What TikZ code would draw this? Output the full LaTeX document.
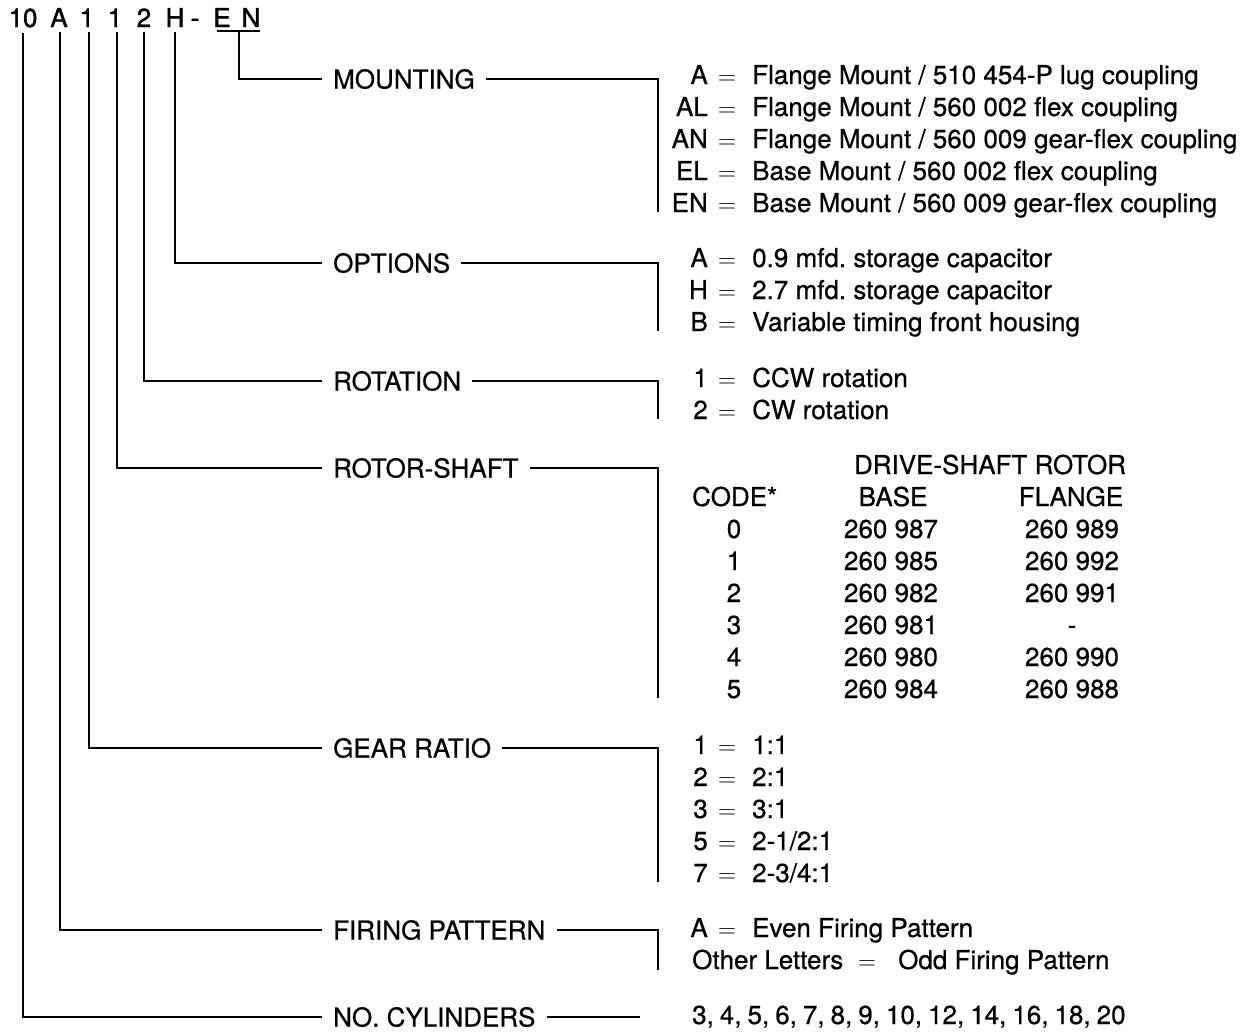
\documentclass[tikz,border=0pt]{standalone}
\usepackage{fontspec}
\setmainfont{TeX Gyre Heros}[FakeBold=0.6]
\newcommand\myfs{\fontsize{26}{30}\selectfont\frenchspacing}
\newcommand\myeq{$=$}
\begin{document}
\begin{tikzpicture}[x=1pt,y=-1pt,
  every node/.style={font=\myfs, inner sep=0pt},
  codech/.style={anchor=base, inner ysep=5pt, font=\myfs\addfontfeature{FakeBold=1.5}},
  lbl/.style={anchor=west, inner xsep=11pt, text height=19pt, text depth=0pt},
  key/.style={anchor=base east},
  eq/.style={anchor=base},
  desc/.style={anchor=base west},
  cell/.style={anchor=base},
  conn/.style={line width=1.2pt}]
\useasboundingbox (0,0) rectangle (1255,1031);

% code string
\node[codech] (c10) at (23,27) {10};
\node[codech] (cA) at (59,27) {A};
\node[codech] (c1a) at (87,27) {1};
\node[codech] (c1b) at (115,27) {1};
\node[codech] (c2) at (144,27) {2};
\node[codech] (cH) at (175,27) {H};
\node[codech] (cd) at (195,27) {-};
\node[codech] (cE) at (222,27) {E};
\node[codech] (cN) at (251,27) {N};
\coordinate (ulL) at (217,31);
\coordinate (ulR) at (260,31);
\coordinate (ulM) at (239,31);

% category labels
\node[lbl] (mnt) at (322,79) {MOUNTING};
\node[lbl] (opt) at (322,263) {OPTIONS};
\node[lbl] (rot) at (322,381) {ROTATION};
\node[lbl] (rsh) at (322,468) {ROTOR-SHAFT};
\node[lbl] (gr) at (322,748) {GEAR RATIO};
\node[lbl] (fp) at (322,930) {FIRING PATTERN};
\node[lbl] (nc) at (322,1017) {NO. CYLINDERS};

% bracket ends
\coordinate (mntB) at (658,212);
\coordinate (optB) at (658,331);
\coordinate (rotB) at (658,419);
\coordinate (rshB) at (658,698);
\coordinate (grB) at (658,882);
\coordinate (fpB) at (658,970);
\coordinate (ncE) at (640,1017);

% connectors
\draw[conn] (ulL) -- (ulR);
\draw[conn] (ulM) |- (mnt.west);
\draw[conn] (cH.south) |- (opt.west);
\draw[conn] (c2.south) |- (rot.west);
\draw[conn] ([xshift=2pt]c1b.south) |- (rsh.west);
\draw[conn] ([xshift=2pt]c1a.south) |- (gr.west);
\draw[conn] ([xshift=1pt]cA.south) |- (fp.west);
\draw[conn] (c10.south) |- (nc.west);
\draw[conn] (mnt.east) -| (mntB);
\draw[conn] (opt.east) -| (optB);
\draw[conn] (rot.east) -| (rotB);
\draw[conn] (rsh.east) -| (rshB);
\draw[conn] (gr.east) -| (grB);
\draw[conn] (fp.east) -| (fpB);
\draw[conn] (nc.east) -- (ncE);

% MOUNTING entries
\node[key] (mk1) at (708,84) {A};  \node[eq] (me1) at (727,84) {\myeq}; \node[desc] (md1) at (752,84) {Flange Mount / 510 454-P lug coupling};
\node[key] (mk2) at (708,116) {AL}; \node[eq] (me2) at (727,116) {\myeq}; \node[desc] (md2) at (752,116) {Flange Mount / 560 002 flex coupling};
\node[key] (mk3) at (708,148) {AN}; \node[eq] (me3) at (727,148) {\myeq}; \node[desc] (md3) at (752,148) {Flange Mount / 560 009 gear-flex coupling};
\node[key] (mk4) at (708,180) {EL}; \node[eq] (me4) at (727,180) {\myeq}; \node[desc] (md4) at (752,180) {Base Mount / 560 002 flex coupling};
\node[key] (mk5) at (708,212) {EN}; \node[eq] (me5) at (727,212) {\myeq}; \node[desc] (md5) at (752,212) {Base Mount / 560 009 gear-flex coupling};

% OPTIONS entries
\node[key] (ok1) at (708,267) {A}; \node[eq] (oe1) at (727,267) {\myeq}; \node[desc] (od1) at (752,267) {0.9 mfd. storage capacitor};
\node[key] (ok2) at (708,299) {H}; \node[eq] (oe2) at (727,299) {\myeq}; \node[desc] (od2) at (752,299) {2.7 mfd. storage capacitor};
\node[key] (ok3) at (708,331) {B}; \node[eq] (oe3) at (727,331) {\myeq}; \node[desc] (od3) at (752,331) {Variable timing front housing};

% ROTATION entries
\node[key] (rk1) at (708,387) {1}; \node[eq] (re1) at (727,387) {\myeq}; \node[desc] (rd1) at (752,387) {CCW rotation};
\node[key] (rk2) at (708,419) {2}; \node[eq] (re2) at (727,419) {\myeq}; \node[desc] (rd2) at (752,419) {CW rotation};

% ROTOR-SHAFT table
\node[cell] (th0) at (990,474) {DRIVE-SHAFT ROTOR};
\node[desc] (th1) at (692,506) {CODE*};
\node[cell] (th2) at (893,506) {BASE};
\node[cell] (th3) at (1071,506) {FLANGE};
\node[cell] (t0a) at (734,538) {0}; \node[cell] (t0b) at (891,538) {260 987}; \node[cell] (t0c) at (1072,538) {260 989};
\node[cell] (t1a) at (734,570) {1}; \node[cell] (t1b) at (891,570) {260 985}; \node[cell] (t1c) at (1072,570) {260 992};
\node[cell] (t2a) at (734,602) {2}; \node[cell] (t2b) at (891,602) {260 982}; \node[cell] (t2c) at (1072,602) {260 991};
\node[cell] (t3a) at (734,634) {3}; \node[cell] (t3b) at (891,634) {260 981}; \node[cell] (t3c) at (1072,634) {-};
\node[cell] (t4a) at (734,666) {4}; \node[cell] (t4b) at (891,666) {260 980}; \node[cell] (t4c) at (1072,666) {260 990};
\node[cell] (t5a) at (734,698) {5}; \node[cell] (t5b) at (891,698) {260 984}; \node[cell] (t5c) at (1072,698) {260 988};

% GEAR RATIO entries
\node[key] (gk1) at (708,754) {1}; \node[eq] (ge1) at (727,754) {\myeq}; \node[desc] (gd1) at (752,754) {1:1};
\node[key] (gk2) at (708,786) {2}; \node[eq] (ge2) at (727,786) {\myeq}; \node[desc] (gd2) at (752,786) {2:1};
\node[key] (gk3) at (708,818) {3}; \node[eq] (ge3) at (727,818) {\myeq}; \node[desc] (gd3) at (752,818) {3:1};
\node[key] (gk4) at (708,850) {5}; \node[eq] (ge4) at (727,850) {\myeq}; \node[desc] (gd4) at (752,850) {2-1/2:1};
\node[key] (gk5) at (708,882) {7}; \node[eq] (ge5) at (727,882) {\myeq}; \node[desc] (gd5) at (752,882) {2-3/4:1};

% FIRING PATTERN entries
\node[key] (fk1) at (708,937) {A}; \node[eq] (fe1) at (727,937) {\myeq}; \node[desc] (fd1) at (752,937) {Even Firing Pattern};
\node[desc] (fk2) at (692,969) {Other Letters}; \node[eq] (fe2) at (867,969) {\myeq}; \node[desc] (fd2) at (898,969) {Odd Firing Pattern};

% NO. CYLINDERS
\node[desc] (ncd) at (692,1024) {\spaceskip=6pt\relax 3, 4, 5, 6, 7, 8, 9, 10, 12, 14, 16, 18, 20};
\end{tikzpicture}
\end{document}
